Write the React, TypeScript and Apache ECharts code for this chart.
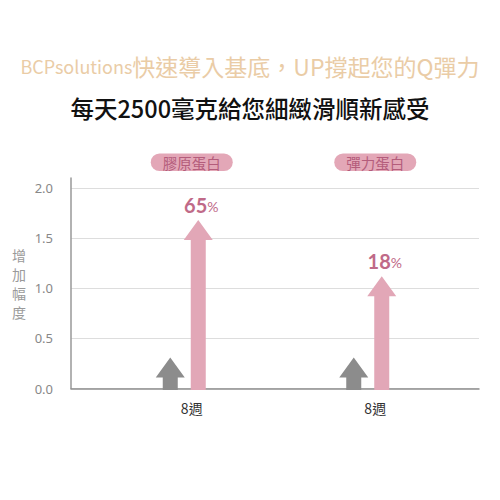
import React, { useEffect, useRef } from 'react';
import * as echarts from 'echarts';

// 數據
const categories = ['8週', '8週'];
const badgeLabels = ['膠原蛋白', '彈力蛋白'];
const baselineValues = [0.31, 0.31];
const increaseValues = [1.68, 1.12];
const increaseLabels = ['65', '18'];

const CJK = '"Noto Sans CJK TC", "Noto Sans", sans-serif';

const App: React.FC = () => {
  const chartRef = useRef<HTMLDivElement>(null);

  useEffect(() => {
    if (!chartRef.current) return;
    const chart = echarts.init(chartRef.current, undefined, { renderer: 'svg' });

    // 箭頭形狀
    const makeArrow = (dx: number, color: string, labels?: string[]) =>
      (params: any, api: any) => {
        const idx = api.value(0);
        const v = api.value(1);
        const base = api.coord([idx, 0]);
        const tip = api.coord([idx, v]);
        const cx = base[0] + dx;
        const headH = 20;
        const headW = 29;
        const shaftW = 15;
        const bottom = base[1] + 1.5;
        const neck = tip[1] + headH;
        const points = [
          [cx - shaftW / 2, bottom],
          [cx - shaftW / 2, neck],
          [cx - headW / 2, neck],
          [cx, tip[1]],
          [cx + headW / 2, neck],
          [cx + shaftW / 2, neck],
          [cx + shaftW / 2, bottom]
        ];
        const children: any[] = [
          { type: 'polygon', shape: { points }, style: { fill: color } }
        ];
        if (labels) {
          children.push({
            type: 'text',
            x: cx + 3,
            y: tip[1] - 5,
            style: {
              text: `{n|${labels[params.dataIndex]}}{p|%}`,
              align: 'center',
              verticalAlign: 'bottom',
              rich: {
                n: { fontSize: 20, fontWeight: 'bold', fontFamily: 'Lato, sans-serif', fill: '#c06a88' },
                p: { fontSize: 14, fontFamily: 'Lato, sans-serif', fill: '#c06a88', padding: [3, 0, 0, 0] }
              }
            }
          });
        }
        return { type: 'group', children };
      };

    const option: any = {
      animation: false,
      backgroundColor: '#ffffff',
      title: [
        {
          text: '{a|BCPsolutions}{b|快速導入基底，UP撐起您的Q彈力}',
          left: 'center',
          top: 46,
          textStyle: {
            fontWeight: 'normal',
            rich: {
              a: { fontSize: 18, fontWeight: 'normal', color: '#eacca6', fontFamily: CJK, lineHeight: 30 },
              b: { fontSize: 23, fontWeight: 'normal', color: '#eacca6', fontFamily: CJK, lineHeight: 30 }
            }
          }
        },
        {
          text: '每天2500毫克給您細緻滑順新感受',
          left: 'center',
          top: 88,
          textStyle: {
            fontSize: 23.5,
            fontWeight: 500,
            color: '#111111',
            fontFamily: CJK,
            lineHeight: 30
          }
        }
      ],
      grid: [
        { left: 71, right: 21, top: 178, bottom: 111.5 },
        { left: 100, right: 33, top: 178, bottom: 111.5 }
      ],
      xAxis: [
        {
          gridIndex: 0,
          type: 'value',
          min: 0,
          max: 1,
          offset: 5,
          axisLine: { show: true, lineStyle: { color: '#8f8f8f', width: 1.5 } },
          axisTick: { show: false },
          axisLabel: { show: false },
          splitLine: { show: false }
        },
        {
          gridIndex: 1,
          type: 'category',
          data: categories,
          position: 'bottom',
          offset: 5,
          axisLine: { show: false },
          axisTick: { show: false },
          axisLabel: { margin: 7, color: '#333333', fontSize: 14, fontFamily: CJK }
        },
        {
          gridIndex: 1,
          type: 'category',
          data: badgeLabels,
          position: 'top',
          axisLine: { show: false },
          axisTick: { show: false },
          axisLabel: {
            margin: 7,
            color: '#b45c7b',
            fontSize: 14.5,
            fontFamily: CJK,
            backgroundColor: '#e3a7b7',
            borderRadius: 10,
            padding: [2, 12, 1, 12]
          }
        }
      ],
      yAxis: [
        {
          gridIndex: 0,
          type: 'value',
          min: 0,
          max: 2.1,
          interval: 0.5,
          name: '增\n加\n幅\n度',
          nameLocation: 'middle',
          nameRotate: 0,
          nameGap: 45,
          nameTextStyle: {
            fontSize: 14,
            lineHeight: 19,
            color: '#9a9a9a',
            fontFamily: CJK,
            padding: [10, 0, 0, 0]
          },
          axisLine: { show: true, lineStyle: { color: '#999999', width: 1.5 } },
          axisTick: { show: false },
          axisLabel: {
            margin: 18,
            color: '#888888',
            fontSize: 13,
            fontFamily: '"Noto Sans", sans-serif',
            showMaxLabel: false,
            formatter: (v: number) => v.toFixed(1)
          },
          splitLine: { showMaxLine: false, lineStyle: { color: '#dddddd', width: 1 } }
        },
        {
          gridIndex: 1,
          type: 'value',
          min: 0,
          max: 2.1,
          interval: 0.5,
          show: false,
          splitLine: { show: false }
        }
      ],
      series: [
        {
          name: '基準',
          type: 'custom',
          xAxisIndex: 1,
          yAxisIndex: 1,
          clip: false,
          renderItem: makeArrow(-21.5, '#8c8c8c'),
          data: baselineValues.map((v, i) => [i, v])
        },
        {
          name: '增加',
          type: 'custom',
          xAxisIndex: 1,
          yAxisIndex: 1,
          clip: false,
          renderItem: makeArrow(6.5, '#e2a7b7', increaseLabels),
          data: increaseValues.map((v, i) => [i, v])
        }
      ]
    };

    chart.setOption(option);

    return () => {
      chart.dispose();
    };
  }, []);

  return (
    <div
      ref={chartRef}
      style={{ position: 'absolute', left: 0, top: 0, width: '500px', height: '500px' }}
    />
  );
};

export default App;
